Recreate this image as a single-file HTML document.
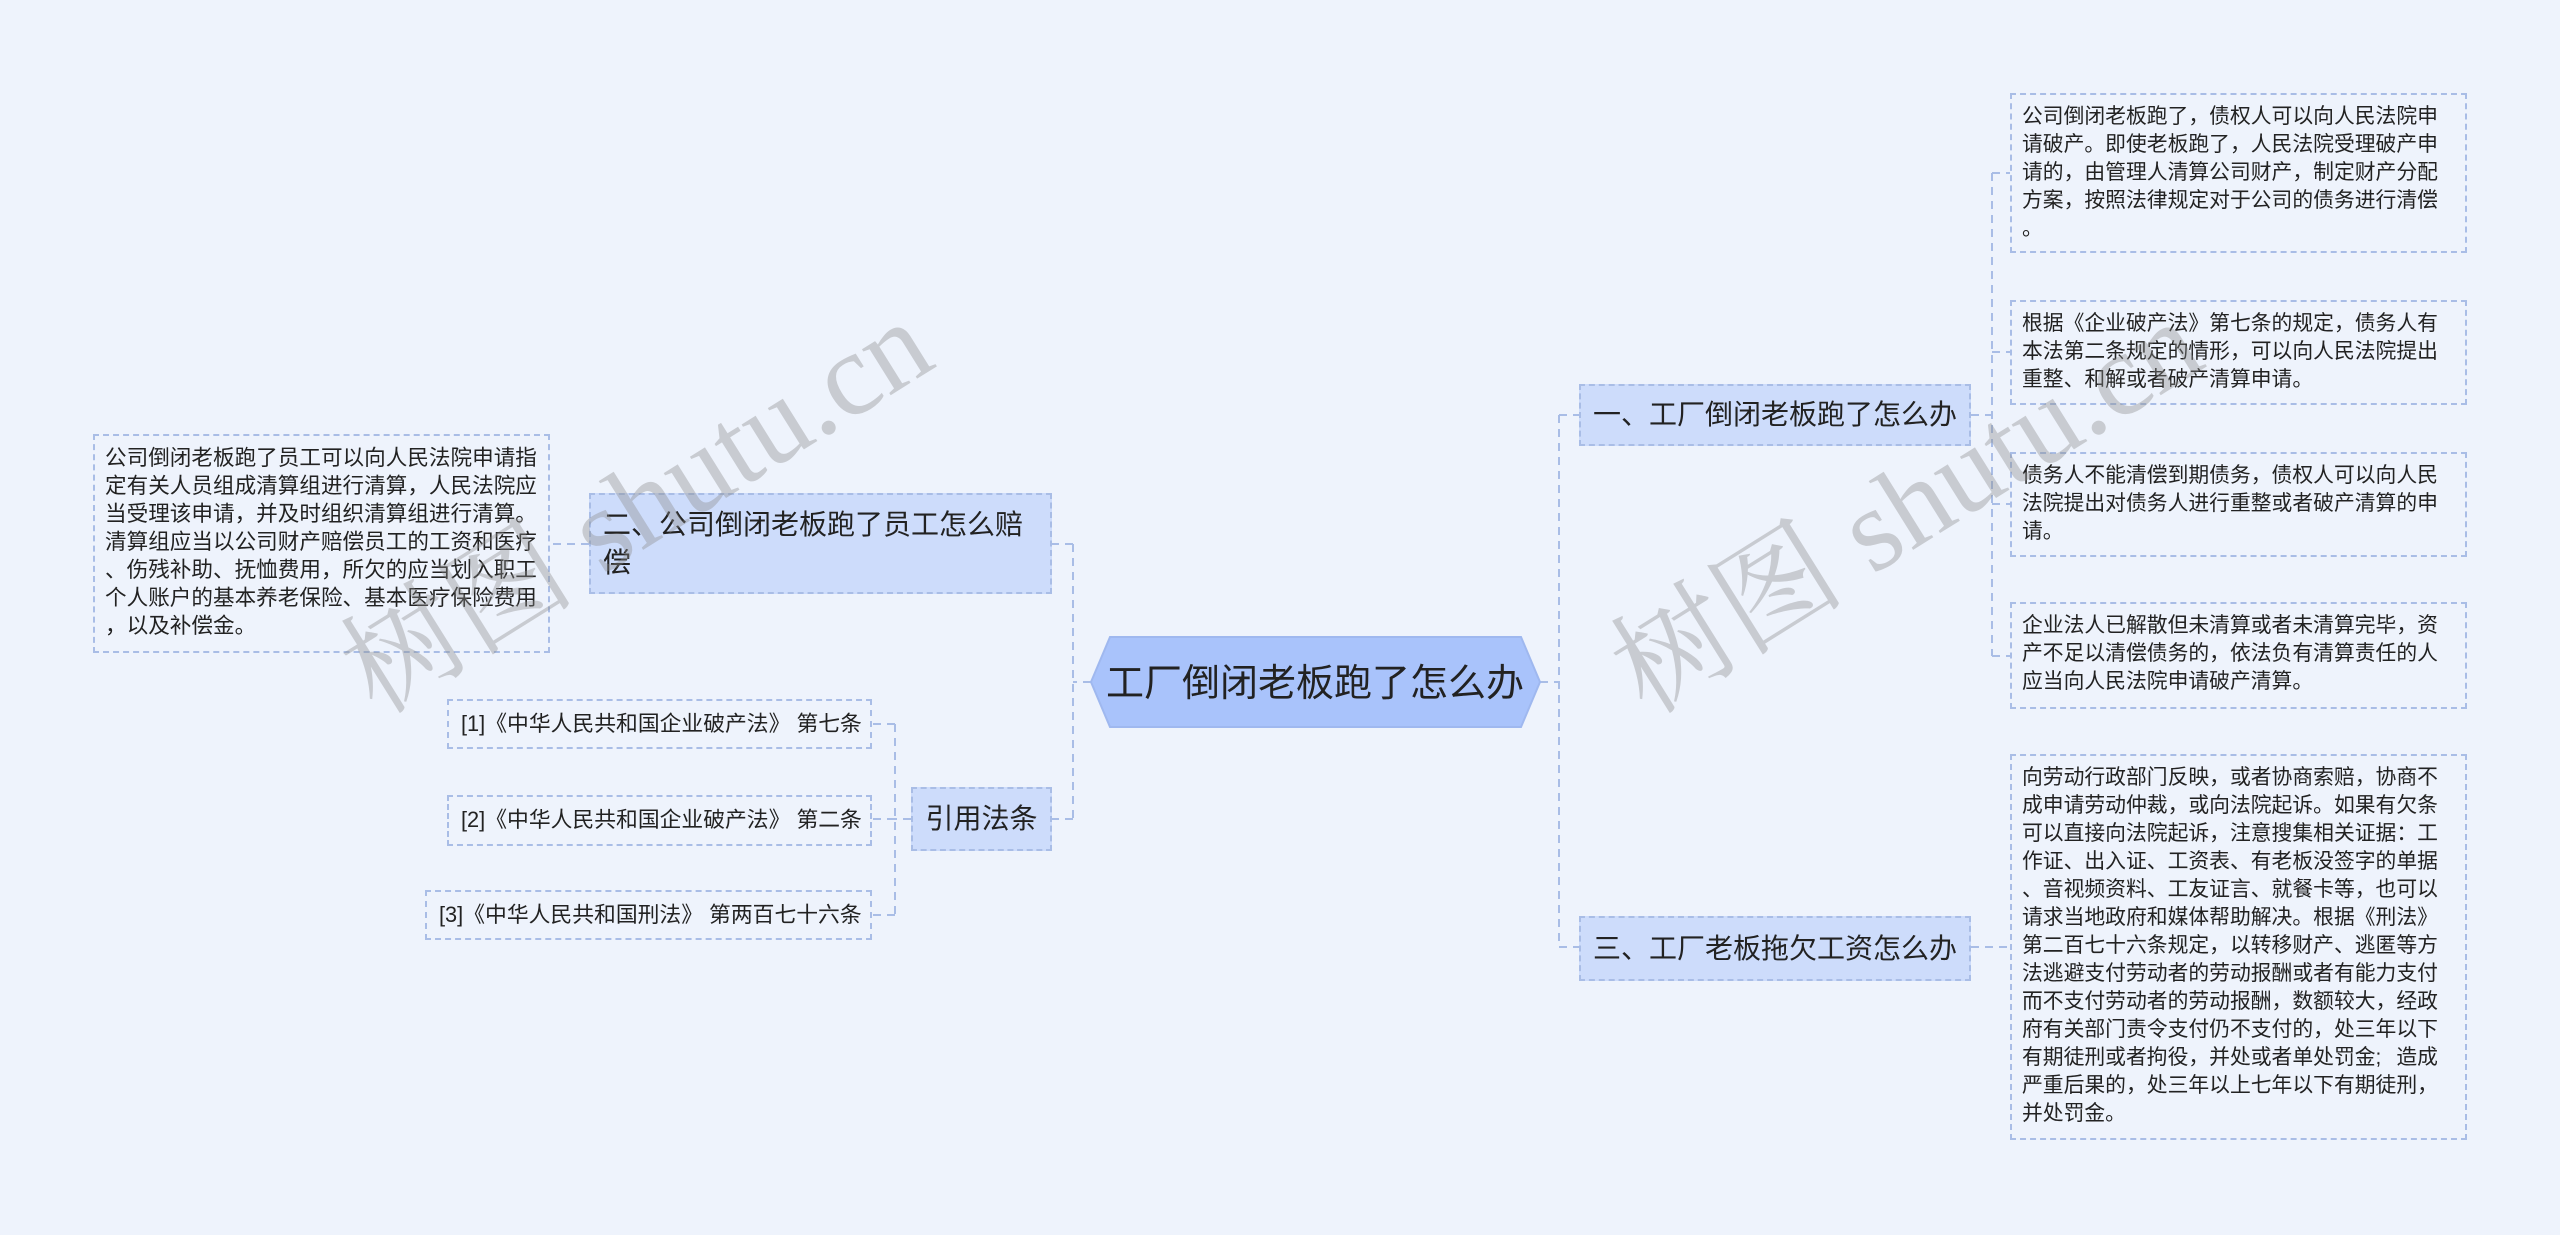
<!DOCTYPE html>
<html><head><meta charset="utf-8"><style>
html,body{margin:0;padding:0;}
body{width:2560px;height:1235px;background:#eef3fc;position:relative;overflow:hidden;font-family:"Liberation Sans","Noto Sans CJK SC",sans-serif;color:#222;}
.n{position:absolute;box-sizing:border-box;border:2px dashed #a9bde6;}
.leaf{font-size:20.8px;line-height:28px;padding:8px 8px 8px 10px;line-break:anywhere;word-break:break-all;}
.br{background:#cddcfb;font-size:28px;line-height:38px;padding:0 12px;display:flex;align-items:center;line-break:anywhere;}
.ref{font-size:21.8px;}
.wm{position:absolute;font-family:"Liberation Serif","Noto Serif CJK SC",serif;font-size:118px;color:rgba(140,140,140,0.38);transform:rotate(-32deg);transform-origin:left bottom;white-space:nowrap;}
</style></head><body>
<svg width="2560" height="1235" style="position:absolute;left:0;top:0" fill="none" stroke="#a9bde6" stroke-width="2" stroke-dasharray="8 6">
<path d="M1540 682 H1559 M1559 415 V947 M1559 415 H1579 M1559 947 H1579"/>
<path d="M1971 415 H1992 M1992 173 V656 M1992 173 H2010 M1992 352 H2010 M1992 504 H2010 M1992 656 H2010 M1971 947 H2010"/>
<path d="M1091 682 H1073 M1073 544 V819 M1073 544 H1052 M1073 819 H1052 M589 544 H550"/>
<path d="M911 819 H895 M895 724 V915 M895 724 H872 M895 819 H872 M895 915 H872"/>
</svg>
<svg width="2560" height="1235" style="position:absolute;left:0;top:0">
<polygon points="1091,682 1110,637 1521,637 1540,682 1521,727 1110,727" fill="#a9c3fb" stroke="#9fb8ef" stroke-width="2"/>
<text x="1315" y="696" text-anchor="middle" font-size="38" fill="#222" font-family="Liberation Sans,Noto Sans CJK SC,sans-serif">工厂倒闭老板跑了怎么办</text>
</svg>
<div class="n br" style="left:1579px;top:384px;width:392px;height:62px;">一、工厂倒闭老板跑了怎么办</div>
<div class="n br" style="left:1579px;top:916px;width:392px;height:65px;">三、工厂老板拖欠工资怎么办</div>
<div class="n br" style="left:589px;top:493px;width:463px;height:101px;">二、公司倒闭老板跑了员工怎么赔偿</div>
<div class="n br" style="left:911px;top:787px;width:141px;height:64px;justify-content:center;">引用法条</div>
<div class="n leaf" style="left:93px;top:434px;width:457px;height:219px;font-size:21.6px;padding:8px 6px 8px 10px;">公司倒闭老板跑了员工可以向人民法院申请指定有关人员组成清算组进行清算，人民法院应当受理该申请，并及时组织清算组进行清算。清算组应当以公司财产赔偿员工的工资和医疗、伤残补助、抚恤费用，所欠的应当划入职工个人账户的基本养老保险、基本医疗保险费用，以及补偿金。</div>
<div class="n leaf ref" style="left:447px;top:699px;width:425px;height:50px;padding:9px 12px;white-space:nowrap;">[1]《中华人民共和国企业破产法》 第七条</div>
<div class="n leaf ref" style="left:447px;top:795px;width:425px;height:51px;padding:9px 12px;white-space:nowrap;">[2]《中华人民共和国企业破产法》 第二条</div>
<div class="n leaf ref" style="left:425px;top:890px;width:447px;height:50px;padding:9px 12px;white-space:nowrap;">[3]《中华人民共和国刑法》 第两百七十六条</div>
<div class="n leaf" style="left:2010px;top:93px;width:457px;height:160px;">公司倒闭老板跑了，债权人可以向人民法院申请破产。即使老板跑了，人民法院受理破产申请的，由管理人清算公司财产，制定财产分配方案，按照法律规定对于公司的债务进行清偿。</div>
<div class="n leaf" style="left:2010px;top:300px;width:457px;height:105px;">根据《企业破产法》第七条的规定，债务人有本法第二条规定的情形，可以向人民法院提出重整、和解或者破产清算申请。</div>
<div class="n leaf" style="left:2010px;top:452px;width:457px;height:105px;">债务人不能清偿到期债务，债权人可以向人民法院提出对债务人进行重整或者破产清算的申请。</div>
<div class="n leaf" style="left:2010px;top:602px;width:457px;height:107px;">企业法人已解散但未清算或者未清算完毕，资产不足以清偿债务的，依法负有清算责任的人应当向人民法院申请破产清算。</div>
<div class="n leaf" style="left:2010px;top:754px;width:457px;height:386px;">向劳动行政部门反映，或者协商索赔，协商不成申请劳动仲裁，或向法院起诉。如果有欠条可以直接向法院起诉，注意搜集相关证据：工作证、出入证、工资表、有老板没签字的单据、音视频资料、工友证言、就餐卡等，也可以请求当地政府和媒体帮助解决。根据《刑法》第二百七十六条规定，以转移财产、逃匿等方法逃避支付劳动者的劳动报酬或者有能力支付而不支付劳动者的劳动报酬，数额较大，经政府有关部门责令支付仍不支付的，处三年以下有期徒刑或者拘役，并处或者单处罚金<span style="display:inline-block;width:1em;">;</span>造成严重后果的，处三年以上七年以下有期徒刑，并处罚金。</div>
<div class="wm" style="left:395px;top:575px;">树图 shutu.cn</div>
<div class="wm" style="left:1665px;top:575px;">树图 shutu.cn</div>
</body></html>
